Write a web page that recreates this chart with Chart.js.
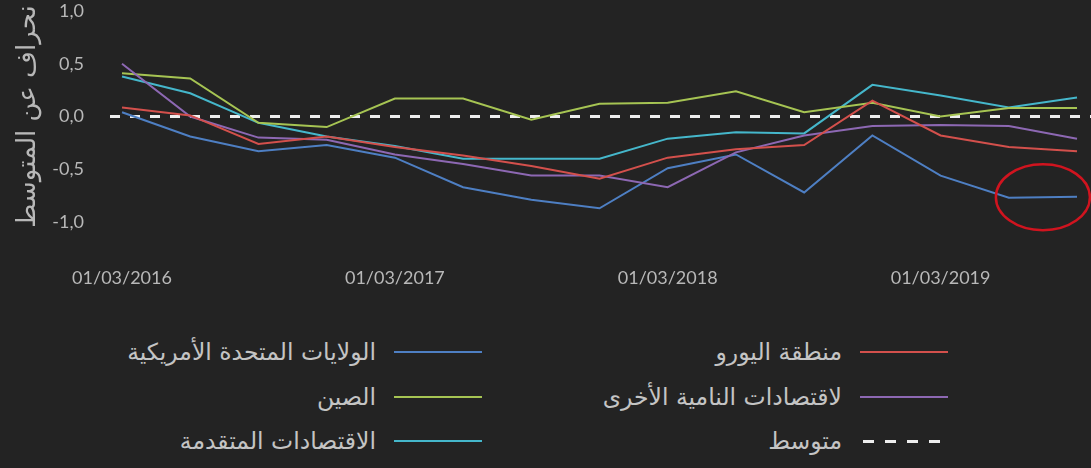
<!DOCTYPE html>
<html lang="ar">
<head>
<meta charset="utf-8">
<title>انحراف عن المتوسط</title>
<script src="https://cdn.jsdelivr.net/npm/chart.js@4.4.1/dist/chart.umd.min.js"></script>
<style>
    html, body { margin: 0; padding: 0; background: #232323; }
    #wrap { position: relative; width: 1091px; height: 468px; overflow: hidden; background: #232323; }
    #lineChart { position: absolute; left: 0; top: 0; }
    #legend {
        position: absolute; top: 330px; right: 143px; width: 466px;
        display: grid; grid-auto-flow: column; grid-template-rows: repeat(3, 44.5px);
        grid-template-columns: 466px 466px; direction: rtl;
        font-family: 'DejaVu Sans', sans-serif; font-size: 23.5px; color: #c4c4c4;
    }
    .lg-item { display: flex; align-items: center; direction: rtl; white-space: nowrap; }
    .lg-line { width: 88px; height: 2px; margin-left: 18px; flex: none; }
    .lg-line.dashed { width: 78px; height: 3px; margin-right: 8px; margin-left: 20px; }
</style>
</head>
<body>
<div id="wrap">
    <canvas id="lineChart" width="1091" height="310"></canvas>
    <div id="legend"></div>
</div>
<script>
// ربع سنوي 2016 - 2019
const quarters = ['01/03/2016','01/06/2016','01/09/2016','01/12/2016',
                  '01/03/2017','01/06/2017','01/09/2017','01/12/2017',
                  '01/03/2018','01/06/2018','01/09/2018','01/12/2018',
                  '01/03/2019','01/06/2019','01/09/2019'];
const tickIndexes = [0, 4, 8, 12];
const yTicks = [-1, -0.5, 0, 0.5, 1];

const usData       = [0.04, -0.19, -0.33, -0.27, -0.39, -0.67, -0.79, -0.87, -0.49, -0.36, -0.72, -0.18, -0.56, -0.77, -0.76];
const euroData     = [0.085, 0.01, -0.26, -0.19, -0.29, -0.37, -0.47, -0.59, -0.39, -0.31, -0.27, 0.15, -0.18, -0.29, -0.33];
const chinaData    = [0.41, 0.36, -0.06, -0.10, 0.17, 0.17, -0.03, 0.12, 0.13, 0.24, 0.04, 0.13, 0.00, 0.08, 0.08];
const otherEmData  = [0.50, 0.00, -0.20, -0.22, -0.36, -0.45, -0.56, -0.56, -0.67, -0.34, -0.18, -0.09, -0.08, -0.09, -0.21];
const advancedData = [0.38, 0.22, -0.06, -0.19, -0.28, -0.40, -0.40, -0.40, -0.21, -0.15, -0.16, 0.30, 0.20, 0.085, 0.18];
const averageValue = 0;

// الفترة المحاطة بالدائرة الحمراء (الولايات المتحدة)
const highlightFrom = 13, highlightTo = 14;

const xMin = -0.176, xMax = 14.205;

const toPoints = arr => arr.map((v, i) => ({ x: i, y: v }));
const fmt = v => v.toFixed(1).replace('.', ',');

const lineStyle = color => ({
    borderColor: color,
    backgroundColor: color,
    borderWidth: 2,
    pointRadius: 0,
    tension: 0,
    fill: false
});

const datasets = [
    { label: 'منطقة اليورو', data: toPoints(euroData), ...lineStyle('#d3504c') },
    { label: 'لاقتصادات النامية الأخرى', data: toPoints(otherEmData), ...lineStyle('#8d68b3') },
    { label: 'متوسط', data: [{ x: xMin, y: averageValue }, { x: xMax, y: averageValue }],
      borderColor: '#eeeeee', borderWidth: 3, borderDash: [10, 10], pointRadius: 0, dashed: true, order: 10 },
    { label: 'الولايات المتحدة الأمريكية', data: toPoints(usData), ...lineStyle('#4e7fc3') },
    { label: 'الصين', data: toPoints(chinaData), ...lineStyle('#a6c453') },
    { label: 'الاقتصادات المتقدمة', data: toPoints(advancedData), ...lineStyle('#45b7cb') }
];

const tickFont = { family: 'Lato, "Open Sans", sans-serif', size: 18 };
const tickColor = '#b8b8b8';

const ellipsePlugin = {
    id: 'highlightEllipse',
    afterDatasetsDraw(chart) {
        const { ctx, scales } = chart;
        const cx = (scales.x.getPixelForValue(highlightFrom) + scales.x.getPixelForValue(highlightTo)) / 2;
        const cy = scales.y.getPixelForValue((usData[highlightFrom] + usData[highlightTo]) / 2);
        ctx.save();
        ctx.beginPath();
        ctx.ellipse(cx, cy, 47, 33, 0, 0, Math.PI * 2);
        ctx.strokeStyle = '#d0141f';
        ctx.lineWidth = 2.5;
        ctx.stroke();
        ctx.restore();
    }
};

const chart = new Chart(document.getElementById('lineChart').getContext('2d'), {
    type: 'line',
    data: { datasets },
    options: {
        responsive: false,
        animation: false,
        layout: { padding: { top: 7, right: 0, bottom: 0, left: 0 } },
        plugins: { legend: { display: false }, tooltip: { enabled: false } },
        scales: {
            x: {
                type: 'linear',
                min: xMin,
                max: xMax,
                grid: { display: false },
                border: { display: false },
                afterBuildTicks: scale => { scale.ticks = tickIndexes.map(v => ({ value: v })); },
                afterFit: scale => { scale.height = 88; },
                ticks: {
                    color: tickColor,
                    font: tickFont,
                    padding: 37,
                    maxRotation: 0,
                    autoSkip: false,
                    callback: v => quarters[v] || ''
                }
            },
            y: {
                min: -1,
                max: 1,
                grid: { display: false },
                border: { display: false },
                afterFit: scale => {
                    scale.width = 110;
                    // لا نريد أن تضيف مسافة العلامات فراغاً أعلى المنطقة
                    scale.paddingTop = 11;
                    scale.paddingBottom = 11;
                },
                afterBuildTicks: scale => { scale.ticks = yTicks.map(v => ({ value: v })); },
                ticks: { color: tickColor, font: tickFont, padding: 18, callback: v => fmt(v) },
                title: {
                    display: true,
                    text: 'نحراف عن المتوسط',
                    color: tickColor,
                    font: { family: '"DejaVu Sans", sans-serif', size: 26 },
                    padding: { top: 13, bottom: 0 }
                }
            }
        }
    },
    plugins: [ellipsePlugin]
});

// مفتاح الرسم
const legendEl = document.getElementById('legend');
chart.data.datasets.forEach(ds => {
    const item = document.createElement('div');
    item.className = 'lg-item';
    const line = document.createElement('span');
    line.className = 'lg-line' + (ds.dashed ? ' dashed' : '');
    line.style.background = ds.dashed
        ? `repeating-linear-gradient(to left, ${ds.borderColor} 0 11px, transparent 11px 22px)`
        : ds.borderColor;
    const txt = document.createElement('span');
    txt.textContent = ds.label;
    item.appendChild(line);
    item.appendChild(txt);
    legendEl.appendChild(item);
});
</script>
</body>
</html>
